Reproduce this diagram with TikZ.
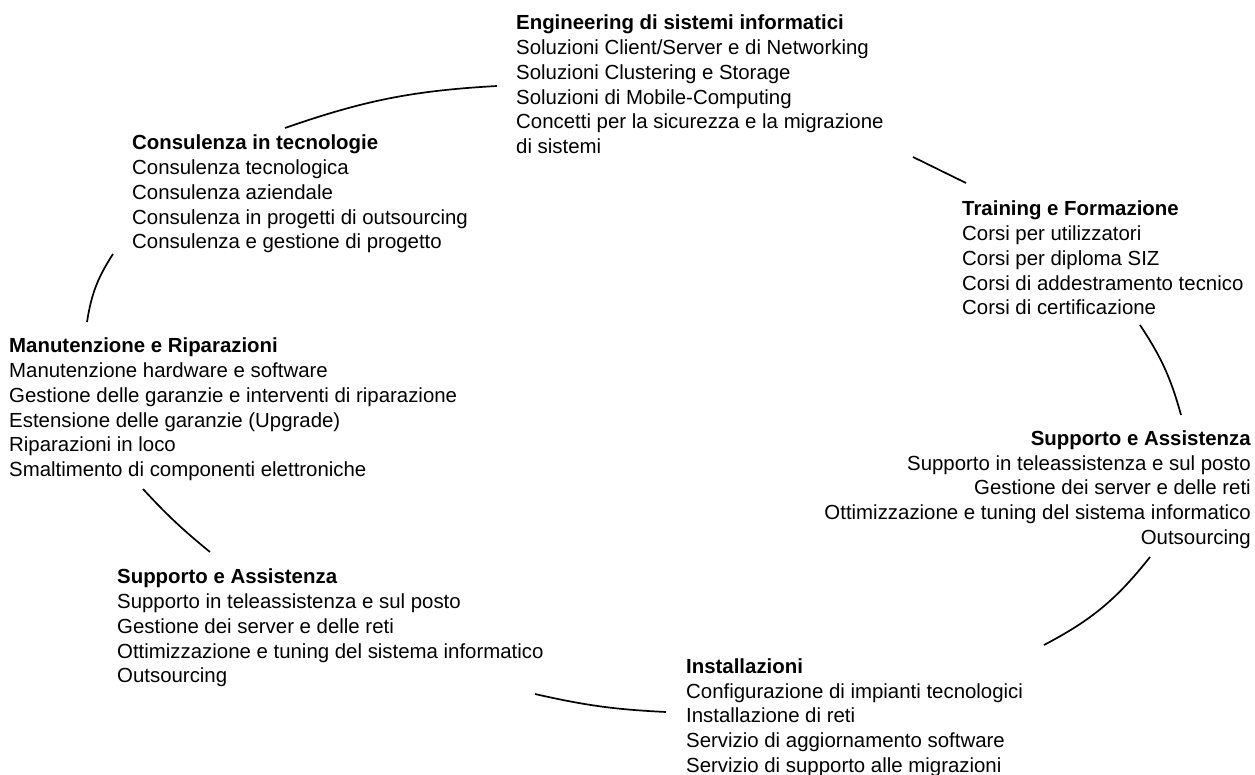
\documentclass[tikz,border=0pt]{standalone}
\usepackage{fontspec}
\setmainfont{Liberation Sans}
\begin{document}
\begin{tikzpicture}[x=1pt,y=-1pt,
  block/.style={inner sep=0pt, align=left, font=\fontsize{20.4}{24.7}\selectfont},
  link/.style={line width=1.7pt, black}]
\useasboundingbox (0,0) rectangle (1255,775);
\fill[white] (0,0) rectangle (1255,775);

% service groups
\node[block, anchor=north west] (eng) at (516,15) {\textbf{Engineering di sistemi informatici}\\
Soluzioni Client/Server e di Networking\\
Soluzioni Clustering e Storage\\
Soluzioni di Mobile-Computing\\
Concetti per la sicurezza e la migrazione\\
di sistemi};

\node[block, anchor=north west] (cons) at (132,135) {\textbf{Consulenza in tecnologie}\\
Consulenza tecnologica\\
Consulenza aziendale\\
Consulenza in progetti di outsourcing\\
Consulenza e gestione di progetto};

\node[block, anchor=north west] (train) at (962,201) {\textbf{Training e Formazione}\\
Corsi per utilizzatori\\
Corsi per diploma SIZ\\
Corsi di addestramento tecnico\\
Corsi di certificazione};

\node[block, anchor=north west] (manut) at (9,338) {\textbf{Manutenzione e Riparazioni}\\
Manutenzione hardware e software\\
Gestione delle garanzie e interventi di riparazione\\
Estensione delle garanzie (Upgrade)\\
Riparazioni in loco\\
Smaltimento di componenti elettroniche};

\node[block, anchor=north east, align=right] (suppR) at (1251,430.5) {\textbf{Supporto e Assistenza}\\
Supporto in teleassistenza e sul posto\\
Gestione dei server e delle reti\\
Ottimizzazione e tuning del sistema informatico\\
Outsourcing};

\node[block, anchor=north west] (suppL) at (117,569) {\textbf{Supporto e Assistenza}\\
Supporto in teleassistenza e sul posto\\
Gestione dei server e delle reti\\
Ottimizzazione e tuning del sistema informatico\\
Outsourcing};

\node[block, anchor=north west] (inst) at (686,658.5) {\textbf{Installazioni}\\
Configurazione di impianti tecnologici\\
Installazione di reti\\
Servizio di aggiornamento software\\
Servizio di supporto alle migrazioni};

% arc end points of the cycle
\coordinate (c1a) at (285,128);  \coordinate (c1b) at (497,86);
\coordinate (c2a) at (913,157);  \coordinate (c2b) at (966,183);
\coordinate (c3a) at (1140,325); \coordinate (c3b) at (1181,415);
\coordinate (c4a) at (1150,557); \coordinate (c4b) at (1044,645);
\coordinate (c5a) at (535,694);  \coordinate (c5b) at (666,712);
\coordinate (c6a) at (143,489);  \coordinate (c6b) at (210,552);
\coordinate (c7a) at (113,254);  \coordinate (c7b) at (87,322);

% cycle arcs
\draw[link] (c1a) to[bend left=8] (c1b);
\draw[link] (c2a) -- (c2b);
\draw[link] (c3a) to[bend left=9] (c3b);
\draw[link] (c4a) to[bend left=12] (c4b);
\draw[link] (c5a) to[bend right=5] (c5b);
\draw[link] (c6a) to[bend right=4] (c6b);
\draw[link] (c7a) to[bend right=12] (c7b);
\end{tikzpicture}
\end{document}
